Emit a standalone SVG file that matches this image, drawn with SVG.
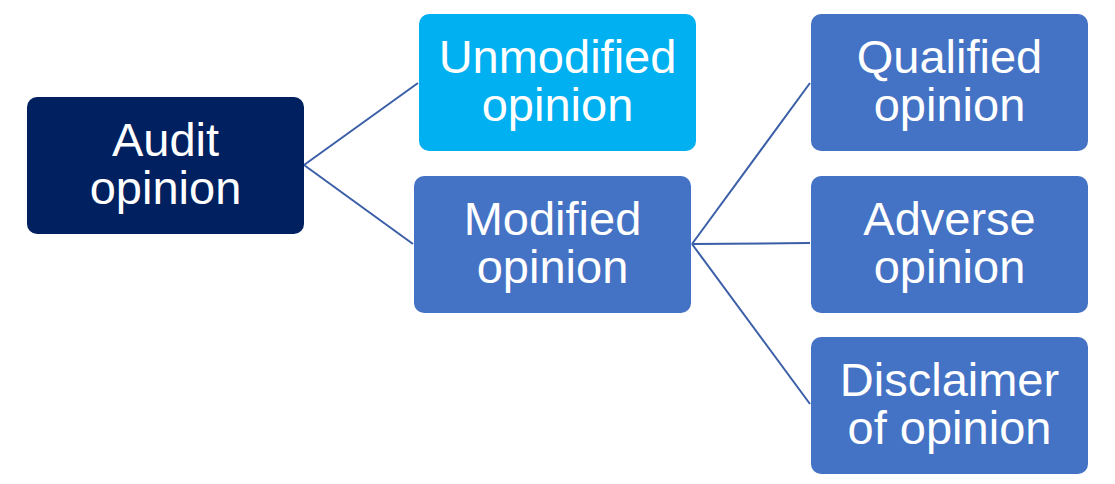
<svg xmlns="http://www.w3.org/2000/svg" width="1115" height="484" viewBox="0 0 1115 484">
<style>
.n{stroke:none}
.t{font-family:"Liberation Sans",Arial,sans-serif;font-size:47px;fill:#fff;text-anchor:middle}
.c{stroke:#3a5ea8;stroke-width:2;fill:none}
</style>
<rect width="1115" height="484" fill="#fff"/>
<g id="connectors">
<line class="c" x1="304" y1="165" x2="418" y2="83"/>
<line class="c" x1="304" y1="165" x2="413" y2="244"/>
<line class="c" x1="692" y1="244" x2="810" y2="83"/>
<line class="c" x1="692" y1="244" x2="810" y2="243"/>
<line class="c" x1="692" y1="244" x2="810" y2="404"/>
</g>
<g id="audit"><rect x="27" y="97" width="277" height="137" rx="10" fill="#002060"/>
<text class="t" x="165.5" y="156">Audit</text><text class="t" x="165.5" y="204">opinion</text></g>
<g id="unmodified"><rect x="419" y="14" width="277" height="137" rx="10" fill="#00b0f0"/>
<text class="t" x="557.5" y="73">Unmodified</text><text class="t" x="557.5" y="121">opinion</text></g>
<g id="modified"><rect x="414" y="176" width="277" height="137" rx="10" fill="#4472c4"/>
<text class="t" x="552.5" y="235">Modified</text><text class="t" x="552.5" y="283">opinion</text></g>
<g id="qualified"><rect x="811" y="14" width="277" height="137" rx="10" fill="#4472c4"/>
<text class="t" x="949.5" y="73">Qualified</text><text class="t" x="949.5" y="121">opinion</text></g>
<g id="adverse"><rect x="811" y="176" width="277" height="137" rx="10" fill="#4472c4"/>
<text class="t" x="949.5" y="235">Adverse</text><text class="t" x="949.5" y="283">opinion</text></g>
<g id="disclaimer"><rect x="811" y="337" width="277" height="137" rx="10" fill="#4472c4"/>
<text class="t" x="949.5" y="396">Disclaimer</text><text class="t" x="949.5" y="444">of opinion</text></g>
</svg>
